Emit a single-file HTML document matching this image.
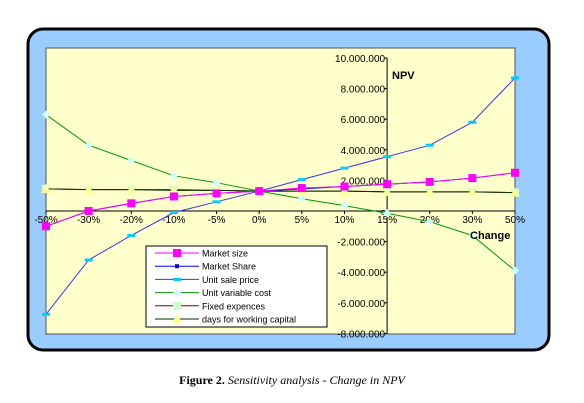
<!DOCTYPE html>
<html><head><meta charset="utf-8"><style>
body{margin:0;background:#fff;width:584px;height:403px;overflow:hidden}
svg{display:block}
</style></head><body>
<svg width="584" height="403">
<rect x="28" y="29" width="521" height="321" rx="15" fill="#99ccff" stroke="#000" stroke-width="3"/>
<rect x="46" y="48" width="469" height="286" fill="#ffffcc" stroke="#555" stroke-width="1"/>
<g id="grid"></g>
<g id="series"></g>
<text x="392" y="79" font-family="Liberation Sans" font-weight="bold" font-size="11">NPV</text>
<text x="470" y="239" font-family="Liberation Sans" font-weight="bold" font-size="11">Change</text>
<g>
<rect x="146" y="246" width="181" height="81" fill="#fff" stroke="#000" stroke-width="1"/>
<g id="legend"></g>
</g>
<text x="292" y="384" text-anchor="middle" font-family="Liberation Serif" font-size="12"><tspan font-weight="bold">Figure 2.</tspan><tspan font-style="italic"> Sensitivity analysis - Change in NPV</tspan></text>
</svg>
<script>
const categories=["-50%","-30%","-20%","-10%","-5%","0%","5%","10%","15%","20%","30%","50%"];
const yTicks=[10,8,6,4,2,0,-2,-4,-6,-8];
const yTickLabels=["10.000.000","8.000.000","6.000.000","4.000.000","2.000.000","0","-2.000.000","-4.000.000","-6.000.000","-8.000.000"];
const marketSize=[-1.0,0,0.5,0.95,1.15,1.3,1.5,1.6,1.75,1.9,2.15,2.5];
const marketShare=[-1.0,0,0.5,0.95,1.15,1.3,1.45,1.6,1.75,1.9,2.15,2.5];
const unitSalePrice=[-6.75,-3.2,-1.6,-0.1,0.6,1.3,2.05,2.8,3.55,4.3,5.8,8.7];
const unitVariableCost=[6.3,4.3,3.3,2.3,1.85,1.3,0.8,0.35,-0.15,-0.7,-1.6,-3.9];
const fixedExpences=[1.45,1.4,1.4,1.4,1.35,1.3,1.3,1.3,1.25,1.25,1.25,1.2];
const daysWorkingCapital=[1.45,1.4,1.4,1.35,1.35,1.3,1.3,1.3,1.25,1.25,1.25,1.2];
const NS="http://www.w3.org/2000/svg";
const x=i=>46+i*(469/11);
const y=v=>211-v*15.3;
function mk(t,a,p){const e=document.createElementNS(NS,t);for(const k in a)e.setAttribute(k,a[k]);p.appendChild(e);return e;}
const grid=document.getElementById('grid');
const ax=mk('line',{x1:46,x2:515,y1:y(0),y2:y(0),stroke:'#000','stroke-width':1},grid);


const ay=mk('line',{x1:x(8),x2:x(8),y1:y(10),y2:y(-8),stroke:'#000','stroke-width':1},grid);


yTicks.forEach((v,i)=>{
 mk('line',{x1:x(8)-3,x2:x(8),y1:y(v),y2:y(v),stroke:'#000'},grid);
 const t=mk('text',{x:x(8)-2,y:y(v)+4,'text-anchor':'end','font-family':'Liberation Sans','font-size':i==5?'7':'10'},grid);
 t.textContent=yTickLabels[i];
 
 
});
categories.forEach((c,i)=>{
 mk('line',{x1:x(i),x2:x(i),y1:y(0),y2:y(0)+3,stroke:'#000'},grid);
 const t=mk('text',{x:x(i),y:y(0)+12,'text-anchor':'middle','font-family':'Liberation Sans','font-size':'10'},grid);
 t.textContent=c;
 
 
});
const series=[
 {n:'Market size',d:marketSize,c:'#ff00ff',m:'bigsq',mc:'#ff00ff',key:'market-size'},
 {n:'Market Share',d:marketShare,c:'#0000ff',m:'smsq',mc:'#0000cc',key:'market-share'},
 {n:'Unit sale price',d:unitSalePrice,c:'#3333ff',m:'dash',mc:'#00ccff',key:'unit-sale-price'},
 {n:'Unit variable cost',d:unitVariableCost,c:'#009900',m:'dia',mc:'#ccffff',key:'unit-variable-cost'},
 {n:'Fixed expences',d:fixedExpences,c:'#800000',m:'sq',mc:'#ccffcc',key:'fixed-expences'},
 {n:'days for working capital',d:daysWorkingCapital,c:'#003300',m:'tri',mc:'#ffff99',key:'days-working-capital'}
];
function marker(s,cx,cy,p){
 if(s.m=='bigsq')return mk('rect',{x:cx-4,y:cy-4,width:8,height:8,fill:s.mc},p);
 if(s.m=='smsq')return mk('rect',{x:cx-2,y:cy-2,width:4,height:4,fill:s.mc},p);
 if(s.m=='dash')return mk('rect',{x:cx-4,y:cy-1.5,width:8,height:3,fill:s.mc},p);
 if(s.m=='dia')return mk('polygon',{points:`${cx},${cy-4} ${cx+4},${cy} ${cx},${cy+4} ${cx-4},${cy}`,fill:s.mc},p);
 if(s.m=='sq')return mk('rect',{x:cx-4,y:cy-4,width:8,height:8,fill:s.mc},p);
 return mk('polygon',{points:`${cx},${cy-5} ${cx+5},${cy+4} ${cx-5},${cy+4}`,fill:s.mc},p);
}
const sg=document.getElementById('series');
const order=[4,5,3,2,1,0];
order.forEach(k=>{const s=series[k];
 const g=mk('g',{},sg);
 
 
 mk('polyline',{points:s.d.map((v,i)=>x(i)+','+y(v)).join(' '),fill:'none',stroke:s.c,'stroke-width':1},g);
 s.d.forEach((v,i)=>{const m=marker(s,x(i),y(v),g);
  
  });
});
const lg=document.getElementById('legend');
series.forEach((s,i)=>{const yy=253+i*13.2;
 const g=mk('g',{},lg);
 
 
 mk('line',{x1:155,x2:199,y1:yy,y2:yy,stroke:s.c,'stroke-width':1},g);
 marker(s,177,yy,g);
 const t=mk('text',{x:202,y:yy+3.5,'font-family':'Liberation Sans','font-size':'9'},g);
 t.textContent=s.n;
});
</script>
</body></html>
